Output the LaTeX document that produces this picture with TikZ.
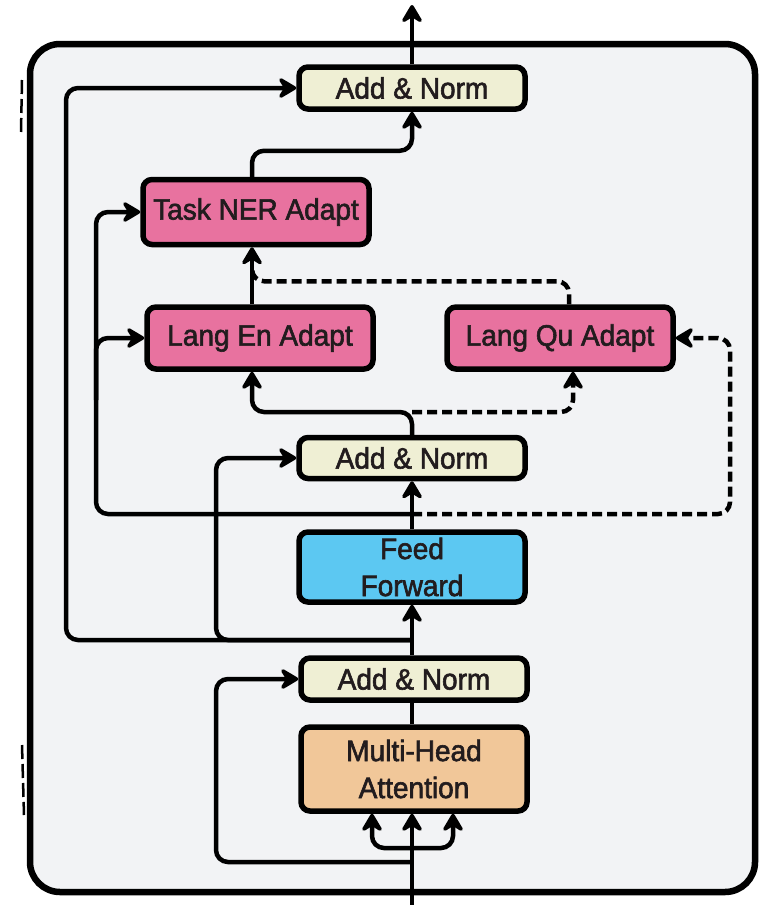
\documentclass[tikz,border=0pt]{standalone}
\usepackage{fontspec}
\setmainfont{Liberation Sans}[FakeBold=2,FakeStretch=0.95]
\usetikzlibrary{arrows.meta}
\definecolor{bgc}{HTML}{F2F3F5}
\definecolor{cream}{HTML}{EFEFD4}
\definecolor{pinkc}{HTML}{E8729F}
\definecolor{bluec}{HTML}{5CC8F2}
\definecolor{orangec}{HTML}{F1C799}
\definecolor{txt}{HTML}{221C1E}
\begin{document}
\begin{tikzpicture}[x=1pt,y=-1pt,
  box/.style={draw=black, line width=5.5pt, rounded corners=9pt, inner sep=0pt,
    align=center, text=txt, font=\fontsize{29.5}{37}\selectfont},
  conn/.style={line width=4.5pt, rounded corners=12pt, draw=black,
    -{Stealth[length=22pt,width=26pt,inset=8pt,round]}},
  plain/.style={line width=4.5pt, rounded corners=12pt, draw=black},
  dashline/.style={dash pattern=on 10pt off 5pt},
  edgemark/.style={line width=2.5pt, dash pattern=on 14pt off 5pt}
]
\useasboundingbox (0,0) rectangle (769,905);
\draw[line width=6.5pt, fill=bgc, rounded corners=30pt] (30,44) rectangle (755,892);
\draw[edgemark] (22,80) -- (21,132);
\draw[edgemark] (22,745) -- (24,815);

% helper x positions
\coordinate (c66) at (66,0);
\coordinate (c96) at (96,0);
\coordinate (c216) at (216,0);
\coordinate (c252) at (252,0);
\coordinate (c372) at (372,0);
\coordinate (c412) at (412,0);
\coordinate (c453) at (453,0);
\coordinate (c569) at (569,0);
\coordinate (c573) at (573,0);
\coordinate (c730) at (730,0);

% boxes
\node[box, fill=cream, minimum width=226, minimum height=42] (an3) at (412,88) {Add \& Norm};
\node[box, fill=pinkc, minimum width=226, minimum height=65] (ner) at (256,212) {Task NER Adapt};
\node[box, fill=pinkc, minimum width=226, minimum height=62] (en) at (260,338) {Lang En Adapt};
\node[box, fill=pinkc, minimum width=226, minimum height=62] (qu) at (560,338) {Lang Qu Adapt};
\node[box, fill=cream, minimum width=226, minimum height=41] (an2) at (412,458) {Add \& Norm};
\node[box, fill=bluec, minimum width=226, minimum height=70] (ff) at (412,567) {Feed\\Forward};
\node[box, fill=cream, minimum width=226, minimum height=42] (an1) at (414,679) {Add \& Norm};
\node[box, fill=orangec, minimum width=226, minimum height=84] (mha) at (414,769) {Multi-Head\\Attention};

% junction coordinates
\coordinate (out) at (412,5);
\coordinate (in) at (412,905);
\coordinate (j1) at (412,412);
\coordinate (r2) at (412,514);
\coordinate (r1) at (412,640);
\coordinate (s) at (412,848);
\coordinate (r0) at (412,862);

% top
\draw[conn] (an3.north) -- (out);
\draw[conn] (ner.north -| c252) -- ++(0,-26) -| (an3.south);
\draw[conn] (en.north -| c252) -- (ner.south -| c252);
\draw[plain, dashline] (qu.north -| c569) -- ++(0,-23) -| ([yshift=-23pt]ner.south -| c252);

% middle
\draw[conn] (an2.north) -- (j1) -| (en.south -| c252);
\draw[conn, dashline] (j1) -| (qu.south -| c573);
\draw[conn] (ff.north) -- (an2.south);
\draw[conn] (r2) -| (c96 |- ner.west) -- (ner.west);
\draw[conn] (96,400) |- (en.west);
\draw[conn, dashline] (r2) -| (c730 |- qu.east) -- (qu.east);

% lower residuals
\draw[conn] (r1) -| (c66 |- an3.west) -- (an3.west);
\draw[conn] (r1) -| (c216 |- an2.west) -- (an2.west);
\draw[conn] (an1.north -| c412) -- (ff.south);
\draw[plain] (mha.north -| c412) -- (an1.south -| c412);

% input
\draw[conn] (in) -- (mha.south -| c412);
\draw[conn] (s) -| (mha.south -| c372);
\draw[conn] (s) -| (mha.south -| c453);
\draw[conn] (r0) -| (c216 |- an1.west) -- (an1.west);
\end{tikzpicture}
\end{document}
